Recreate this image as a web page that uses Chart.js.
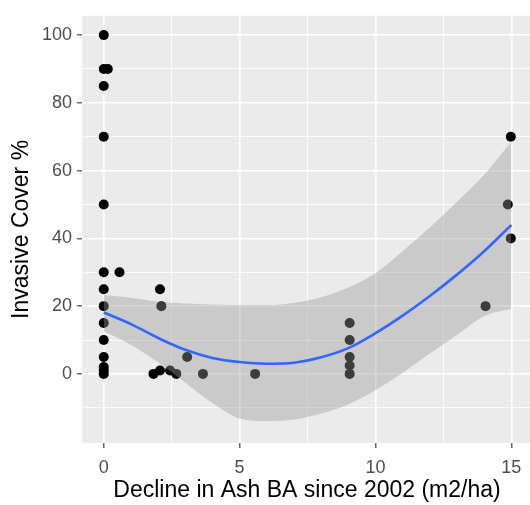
<!DOCTYPE html>
<html>
<head>
<meta charset="utf-8">
<script src="https://cdn.jsdelivr.net/npm/chart.js@4"></script>
<style>
  html, body { margin: 0; padding: 0; background: #fff; overflow: hidden; }
  #wrap { width: 537px; height: 505px; }
</style>
</head>
<body>
<div id="wrap"><canvas id="plot" width="537" height="505"></canvas></div>
<script>
// observed plots
const pointX = [0, 0, 0.15, 0, 0, 0, 0, 0, 0, 0, 0, 0, 0, 0, 0,
  0.58, 1.83, 2.07, 2.12, 2.07, 2.44, 2.67, 3.07, 3.65, 5.57,
  9.05, 9.05, 9.05, 9.05, 9.05, 14.05, 14.87, 14.98, 14.98];
const pointY = [100, 90, 90, 85, 70, 50, 30, 25, 20, 15, 10, 5, 2, 1, 0,
  30, 0, 25, 20, 1, 1, 0, 5, 0, 0,
  15, 10, 5, 2.5, 0, 20, 50, 70, 40];

// smoother + 95% band
const fitX = [0, 1, 2, 3, 4, 5, 6, 7, 8, 9, 10, 11, 12, 13, 14, 15];
const fitY = [18.1, 14.7, 10.6, 7.1, 4.7, 3.5, 3.0, 3.3, 4.9, 7.6, 12.0, 17.2, 23.0, 29.3, 36.2, 44.0];
const fitUpper = [23.3, 22.5, 21.3, 20.8, 20.5, 20.3, 20.3, 21.0, 22.6, 25.5, 29.7, 36.2, 43.2, 50.8, 58.8, 68.5];
const fitLower = [12.6, 8.6, 3.4, -2.6, -8.6, -13.2, -14.0, -13.5, -11.7, -9.0, -4.8, 0.3, 6.0, 11.5, 17.0, 19.2];

const xTicks = [0, 5, 10, 15];
const xMinor = [2.5, 7.5, 12.5];
const yTicks = [0, 20, 40, 60, 80, 100];
const yMinor = [-10, 10, 30, 50, 70, 90];

const xy = (xs, ys) => xs.map((x, i) => ({ x: x, y: ys[i] }));

Chart.defaults.font.family = "'Liberation Sans', Arial, sans-serif";

const panelBg = {
  id: "panelBg",
  beforeDraw(chart) {
    const { ctx, chartArea: a } = chart;
    ctx.save();
    ctx.fillStyle = "#EBEBEB";
    ctx.fillRect(a.left, a.top, a.right - a.left, a.bottom - a.top);
    ctx.restore();
  },
};

const isMajor = (list) => (c) => c.tick && list.includes(c.tick.value);

new Chart(document.getElementById("plot"), {
  type: "scatter",
  data: {
    datasets: [
      {
        data: xy(pointX, pointY),
        pointRadius: 5,
        pointHoverRadius: 5,
        pointBackgroundColor: "#000",
        pointBorderWidth: 0,
        order: 3,
      },
      {
        data: xy(fitX, fitUpper),
        showLine: true,
        borderColor: "transparent",
        borderWidth: 0,
        pointRadius: 0,
        cubicInterpolationMode: "monotone",
        fill: "+1",
        backgroundColor: "rgba(153,153,153,0.4)",
        order: 1,
      },
      {
        data: xy(fitX, fitLower),
        showLine: true,
        borderColor: "transparent",
        borderWidth: 0,
        pointRadius: 0,
        cubicInterpolationMode: "monotone",
        fill: false,
        order: 2,
      },
      {
        data: xy(fitX, fitY),
        showLine: true,
        borderColor: "#3366FF",
        borderWidth: 2.6,
        pointRadius: 0,
        cubicInterpolationMode: "monotone",
        fill: false,
        order: 0,
      },
    ],
  },
  options: {
    responsive: false,
    animation: false,
    layout: { padding: { top: 4, left: 0, right: 0, bottom: 0 } },
    plugins: { legend: { display: false }, tooltip: { enabled: false } },
    scales: {
      x: {
        type: "linear",
        min: -0.8,
        max: 15.76,
        afterBuildTicks: (s) => {
          s.ticks = xTicks.concat(xMinor).sort((a, b) => a - b).map((v) => ({ value: v }));
        },
        afterFit: (s) => { s.height = 62; },
        border: { display: false },
        grid: {
          color: "#FFFFFF",
          lineWidth: (c) => (isMajor(xTicks)(c) ? 1.6 : 0.8),
          tickLength: 5,
          tickWidth: 1.1,
          tickColor: (c) => (isMajor(xTicks)(c) ? "#333333" : "rgba(0,0,0,0)"),
        },
        ticks: {
          autoSkip: false,
          maxRotation: 0,
          minRotation: 0,
          padding: 9,
          color: "#4D4D4D",
          font: { size: 18 },
          callback: (v) => (xTicks.includes(v) ? String(v) : ""),
        },
        title: {
          display: true,
          text: "Decline in Ash BA since 2002 (m2/ha)",
          color: "#000",
          font: { size: 23 },
          padding: { top: 0, bottom: 1 },
        },
      },
      y: {
        type: "linear",
        min: -20.4,
        max: 105.7,
        afterBuildTicks: (s) => {
          s.ticks = yTicks.concat(yMinor).sort((a, b) => a - b).map((v) => ({ value: v }));
        },
        afterFit: (s) => { s.width = 82; },
        border: { display: false },
        grid: {
          color: "#FFFFFF",
          lineWidth: (c) => (isMajor(yTicks)(c) ? 1.6 : 0.8),
          tickLength: 5,
          tickWidth: 1.1,
          tickColor: (c) => (isMajor(yTicks)(c) ? "#333333" : "rgba(0,0,0,0)"),
        },
        ticks: {
          autoSkip: false,
          padding: 5,
          color: "#4D4D4D",
          font: { size: 18 },
          callback: (v) => (yTicks.includes(v) ? String(v) : ""),
        },
        title: {
          display: true,
          text: "Invasive Cover %",
          color: "#000",
          font: { size: 23 },
          padding: { top: 8, bottom: 0 },
        },
      },
    },
  },
  plugins: [panelBg],
});
</script>
</body>
</html>
